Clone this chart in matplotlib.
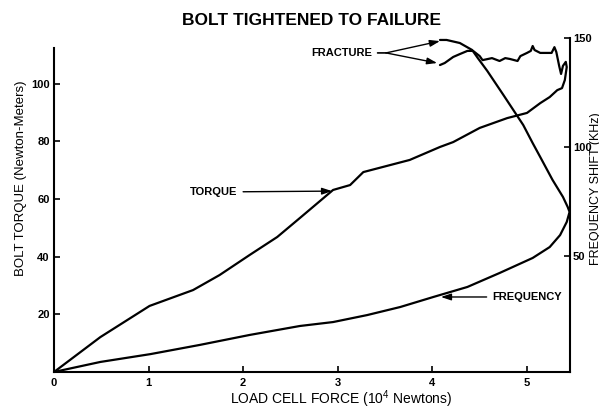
import matplotlib
matplotlib.use('Agg')
import matplotlib.pyplot as plt

plt.rcParams['font.family'] = ['Liberation Sans', 'DejaVu Sans']
plt.rcParams['mathtext.default'] = 'regular'

title = "BOLT TIGHTENED TO FAILURE"
x_label = "LOAD CELL FORCE (10$^4$ Newtons)"
y_left_label = "BOLT TORQUE (Newton-Meters)"
y_right_label = "FREQUENCY SHIFT (KHz)"

x_ticks = [0, 1, 2, 3, 4, 5]
torque_ticks = [20, 40, 60, 80, 100]
freq_ticks = [50, 100, 150]

# Torque (left axis) vs load
torque_load = [0, 0.49, 1.01, 1.47, 1.75, 2.07, 2.36, 2.60, 2.95, 3.13, 3.27, 3.48,
               3.76, 4.08, 4.22, 4.50, 4.79, 5.00, 5.14, 5.24, 5.32, 5.37, 5.40, 5.42,
               5.41, 5.38, 5.36, 5.34, 5.31, 5.29, 5.26, 5.14, 5.08, 5.06, 5.04, 5.00,
               4.93, 4.90, 4.82, 4.77, 4.71, 4.63, 4.53, 4.50, 4.43, 4.37, 4.29, 4.22,
               4.13, 4.08]
torque_value = [0, 12.1, 22.9, 28.4, 33.6, 40.6, 46.8, 53.4, 63.1, 64.8, 69.3, 71.1,
                73.5, 78.0, 79.7, 84.6, 88.0, 89.8, 93.2, 95.3, 97.7, 98.4, 101.2, 105.7,
                107.5, 106.1, 103.3, 106.1, 110.9, 112.6, 110.6, 110.6, 111.6, 113.0, 111.3, 110.6,
                109.5, 107.8, 108.5, 108.8, 107.8, 108.8, 108.1, 109.5, 111.3, 111.3, 110.2, 109.2,
                107.1, 106.4]

# Frequency shift (right axis) vs load
freq_load = [0, 0.49, 1.02, 1.54, 2.07, 2.60, 2.95, 3.31, 3.66, 4.01, 4.37, 4.71,
             5.06, 5.24, 5.35, 5.42, 5.45, 5.43, 5.38, 5.27, 5.14, 5.06, 4.96, 4.89,
             4.75, 4.58, 4.48, 4.42, 4.29, 4.15, 4.08]
freq_value = [-3.2, 1.4, 5.0, 9.2, 13.8, 17.9, 19.7, 22.9, 26.6, 31.2, 35.8, 42.2,
              49.1, 54.1, 59.6, 65.6, 70.2, 72.5, 77.1, 84.9, 95.4, 101.8, 110.1, 114.7,
              123.9, 134.9, 140.8, 144.5, 147.7, 149.1, 149.1]

W, H = 599, 409
fig = plt.figure(figsize=(W / 100, H / 100), dpi=100)
L, R, B, T = 54, 570, 372, 38
ax = fig.add_axes([L / W, 1 - B / H, (R - L) / W, (B - T) / H])
ax2 = ax.twinx()

ax.set_xlim(0, (R - L) / 94.6)
ax.set_ylim(0, (B - T) / 2.885)
ax2.set_ylim(50 - (B - 256) / 2.18, 50 + (256 - T) / 2.18)

line_kw = dict(color='black', lw=1.6, solid_joinstyle='round', solid_capstyle='round')
ax.plot(torque_load, torque_value, **line_kw)
ax2.plot(freq_load, freq_value, **line_kw)

for a in (ax, ax2):
    a.spines['top'].set_visible(False)
    for s in a.spines.values():
        s.set_linewidth(1.5)
ax.spines['right'].set_visible(False)
ax2.spines['left'].set_visible(False)
ax2.spines['bottom'].set_visible(False)
ax.spines['left'].set_bounds(0, 112.3)

tick_font = dict(fontsize=8, fontweight='bold')
ax.set_xticks(x_ticks)
ax.set_xticklabels([str(v) for v in x_ticks], **tick_font)
ax.set_yticks(torque_ticks)
ax.set_yticklabels([str(v) for v in torque_ticks], **tick_font)
ax2.set_yticks(freq_ticks)
ax2.set_yticklabels([str(v) for v in freq_ticks], **tick_font)
ax.tick_params(axis='x', direction='in', length=4, width=1.2, pad=4)
ax.tick_params(axis='y', direction='in', length=4, width=1.2, pad=3)
ax2.tick_params(axis='y', direction='in', length=4, width=1.2, pad=2)

fig.suptitle(title, x=311 / W, y=1 - 20.5 / H, va='center', fontsize=12.5, fontweight='bold')

ax.set_xlabel(x_label, fontsize=10)
ax.xaxis.set_label_coords((341 - L) / (R - L), (B - 399.5) / (B - T))
ax.xaxis.label.set_va('center')

ax.set_ylabel(y_left_label, fontsize=9.5)
ax.yaxis.set_label_coords((21 - L) / (R - L), (B - 178.5) / (B - T))
ax.yaxis.label.set_va('center')

ax2.set_ylabel(y_right_label, fontsize=9, rotation=90)
ax2.yaxis.set_label_coords((595.5 - L) / (R - L), (B - 189) / (B - T))
ax2.yaxis.label.set_va('center')
ax2.yaxis.label.set_ha('center')

arrow = dict(arrowstyle='-|>,head_length=0.6,head_width=0.2', mutation_scale=10,
             color='black', lw=1.0, shrinkA=2, shrinkB=0)
ann_font = dict(fontsize=8, fontweight='bold', ha='center', va='center')

# TORQUE label
ax.annotate('TORQUE', xy=(2.94, 62.7), xytext=(1.69, 62.4), arrowprops=arrow, **ann_font)

# FRACTURE label with stem and two arrows
ax.annotate('FRACTURE', xy=(3.51, 110.6), xytext=(3.04, 110.6),
            arrowprops=dict(arrowstyle='-', color='black', lw=1.2, shrinkA=2, shrinkB=0),
            annotation_clip=False, **ann_font)
ax.annotate('', xy=(4.08, 114.7), xytext=(3.51, 110.6), arrowprops=dict(arrow, shrinkA=0),
            annotation_clip=False)
ax.annotate('', xy=(4.05, 107.1), xytext=(3.51, 110.6), arrowprops=dict(arrow, shrinkA=0),
            annotation_clip=False)

# FREQUENCY label
ax2.annotate('FREQUENCY', xy=(4.09, 31.2), xytext=(5.0, 31.2), arrowprops=arrow, **ann_font)

fig.savefig('out.png', dpi=100)
